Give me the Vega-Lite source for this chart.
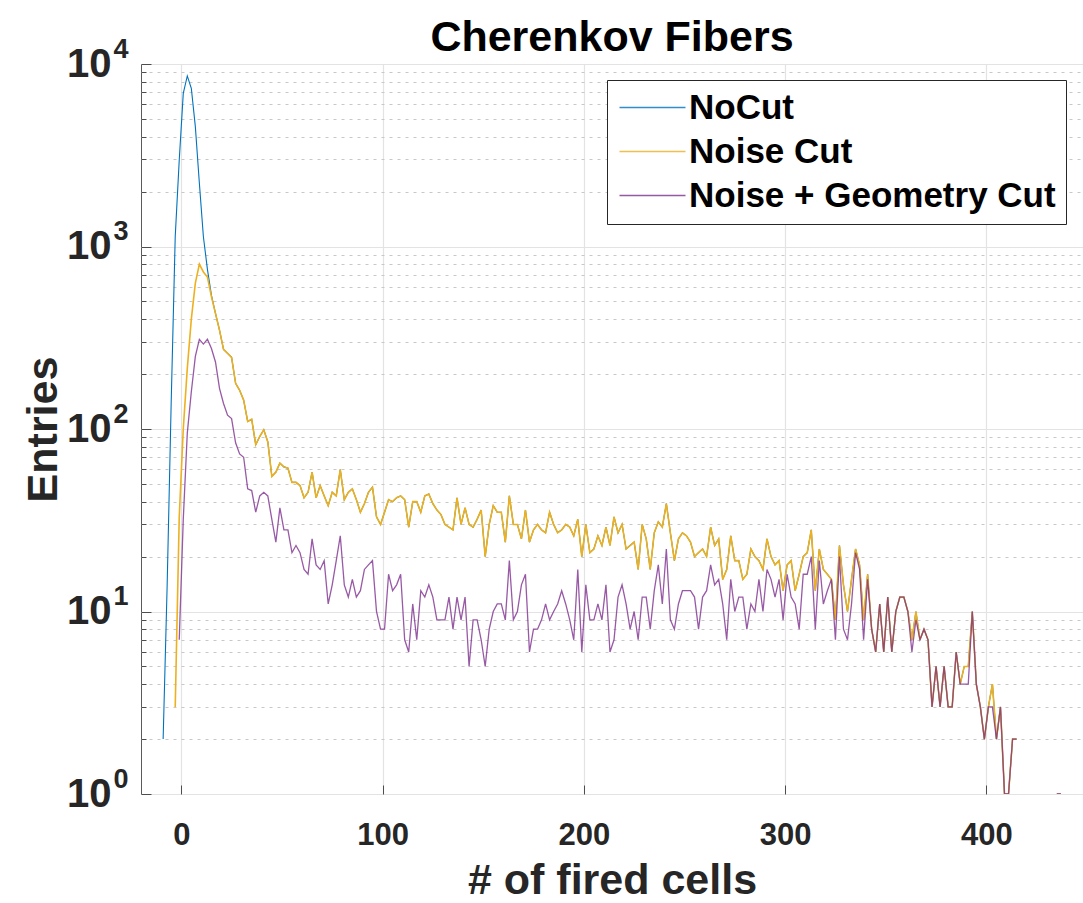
{
 "$schema": "https://vega.github.io/schema/vega-lite/v6.json",
 "autosize": "none",
 "padding": {"left": 141, "top": 64, "right": 0, "bottom": 109},
 "width": 942,
 "height": 730,
 "background": "white",
 "title": {"text": "Cherenkov Fibers", "font": "Liberation Sans", "fontSize": 43, "fontWeight": "bold", "color": "#000000", "anchor": "middle", "frame": "group", "baseline": "alphabetic", "offset": 0, "dy": 59},
 "resolve": {"axis": {"y": "independent"}},
 "config": {
  "view": {"stroke": "#5a5a5a", "strokeWidth": 1},
  "axis": {"labelFont": "Liberation Sans", "labelFontWeight": "bold", "labelFontSize": 30, "labelColor": "#262626", "titleFont": "Liberation Sans", "titleFontWeight": "bold", "titleFontSize": 43, "titleColor": "#262626", "domain": false, "tickColor": "#4d4d4d", "gridColor": "#e3e3e3", "gridWidth": 1.2, "labelOverlap": false, "labelBound": false, "labelFlush": false}
 },
 "data": {"values": [
  {"x":-9,"a":2,"b":null,"c":null},
  {"x":-7,"a":14,"b":null,"c":null},
  {"x":-5,"a":140,"b":null,"c":null},
  {"x":-3,"a":1130,"b":3,"c":null},
  {"x":-1,"a":2980,"b":33,"c":7},
  {"x":1,"a":6900,"b":100,"c":32},
  {"x":3,"a":8600,"b":215,"c":95},
  {"x":5,"a":7360,"b":400,"c":160},
  {"x":7,"a":4540,"b":630,"c":250},
  {"x":9,"a":2220,"b":800,"c":310},
  {"x":11,"a":1130,"b":725,"c":292},
  {"x":13,"a":750,"b":680,"c":310},
  {"x":15,"a":540,"b":530,"c":276},
  {"x":17,"a":430,"b":430,"c":233},
  {"x":19,"a":348,"b":348,"c":167},
  {"x":21,"a":273,"b":273,"c":138},
  {"x":23,"a":260,"b":260,"c":119},
  {"x":25,"a":247,"b":247,"c":114},
  {"x":27,"a":178,"b":178,"c":84},
  {"x":29,"a":163,"b":163,"c":73},
  {"x":31,"a":144,"b":144,"c":70},
  {"x":33,"a":110,"b":110,"c":47},
  {"x":35,"a":113,"b":113,"c":46},
  {"x":37,"a":82,"b":82,"c":35},
  {"x":39,"a":91,"b":91,"c":43},
  {"x":41,"a":99,"b":99,"c":45},
  {"x":43,"a":85,"b":85,"c":43},
  {"x":45,"a":55,"b":55,"c":32},
  {"x":47,"a":58,"b":58,"c":24},
  {"x":49,"a":65,"b":65,"c":37},
  {"x":51,"a":62,"b":62,"c":28},
  {"x":53,"a":61,"b":61,"c":28},
  {"x":55,"a":51,"b":51,"c":21},
  {"x":57,"a":51,"b":51,"c":23},
  {"x":59,"a":49,"b":49,"c":21},
  {"x":61,"a":42,"b":42,"c":17},
  {"x":63,"a":45,"b":45,"c":16},
  {"x":65,"a":58,"b":58,"c":25},
  {"x":67,"a":42,"b":42,"c":18},
  {"x":69,"a":49,"b":49,"c":17},
  {"x":71,"a":43,"b":43,"c":19},
  {"x":73,"a":38,"b":38,"c":11},
  {"x":75,"a":45,"b":45,"c":14},
  {"x":77,"a":43,"b":43,"c":19},
  {"x":79,"a":60,"b":60,"c":26},
  {"x":81,"a":41,"b":41,"c":14},
  {"x":83,"a":45,"b":45,"c":12},
  {"x":85,"a":47,"b":47,"c":15},
  {"x":87,"a":41,"b":41,"c":12},
  {"x":89,"a":35,"b":35,"c":13},
  {"x":91,"a":39,"b":39,"c":17},
  {"x":93,"a":45,"b":45,"c":18},
  {"x":95,"a":48,"b":48,"c":19},
  {"x":97,"a":33,"b":33,"c":10},
  {"x":99,"a":30,"b":30,"c":8},
  {"x":101,"a":35,"b":35,"c":8},
  {"x":103,"a":41,"b":41,"c":16},
  {"x":105,"a":40,"b":40,"c":13},
  {"x":107,"a":42,"b":42,"c":14},
  {"x":109,"a":43,"b":43,"c":16},
  {"x":111,"a":41,"b":41,"c":7},
  {"x":113,"a":29,"b":29,"c":6},
  {"x":115,"a":40,"b":40,"c":11},
  {"x":117,"a":40,"b":40,"c":7},
  {"x":119,"a":35,"b":35,"c":13},
  {"x":121,"a":43,"b":43,"c":12},
  {"x":123,"a":44,"b":44,"c":14},
  {"x":125,"a":39,"b":39,"c":12},
  {"x":127,"a":36,"b":36,"c":9},
  {"x":129,"a":34,"b":34,"c":9},
  {"x":131,"a":30,"b":30,"c":9},
  {"x":133,"a":29,"b":29,"c":12},
  {"x":135,"a":28,"b":28,"c":8},
  {"x":137,"a":42,"b":42,"c":12},
  {"x":139,"a":30,"b":30,"c":9},
  {"x":141,"a":37,"b":37,"c":12},
  {"x":143,"a":30,"b":30,"c":5},
  {"x":145,"a":29,"b":29,"c":9},
  {"x":147,"a":32,"b":32,"c":9},
  {"x":149,"a":36,"b":36,"c":7},
  {"x":151,"a":20,"b":20,"c":5},
  {"x":153,"a":30,"b":30,"c":8},
  {"x":155,"a":38,"b":38,"c":10},
  {"x":157,"a":35,"b":35,"c":11},
  {"x":159,"a":35,"b":35,"c":11},
  {"x":161,"a":24,"b":24,"c":9},
  {"x":163,"a":43,"b":43,"c":19},
  {"x":165,"a":30,"b":30,"c":9},
  {"x":167,"a":30,"b":30,"c":10},
  {"x":169,"a":25,"b":25,"c":14},
  {"x":171,"a":36,"b":36,"c":16},
  {"x":173,"a":24,"b":24,"c":6},
  {"x":175,"a":28,"b":28,"c":8},
  {"x":177,"a":30,"b":30,"c":8},
  {"x":179,"a":28,"b":28,"c":9},
  {"x":181,"a":27,"b":27,"c":11},
  {"x":183,"a":35,"b":35,"c":9},
  {"x":185,"a":30,"b":30,"c":10},
  {"x":187,"a":27,"b":27,"c":11},
  {"x":189,"a":28,"b":28,"c":13},
  {"x":191,"a":30,"b":30,"c":11},
  {"x":193,"a":29,"b":29,"c":9},
  {"x":195,"a":26,"b":26,"c":7},
  {"x":197,"a":32,"b":32,"c":17},
  {"x":199,"a":20,"b":20,"c":6},
  {"x":201,"a":30,"b":30,"c":14},
  {"x":203,"a":21,"b":21,"c":9},
  {"x":205,"a":22,"b":22,"c":9},
  {"x":207,"a":26,"b":26,"c":11},
  {"x":209,"a":23,"b":23,"c":9},
  {"x":211,"a":29,"b":29,"c":14},
  {"x":213,"a":23,"b":23,"c":6},
  {"x":215,"a":33,"b":33,"c":7},
  {"x":217,"a":27,"b":27,"c":12},
  {"x":219,"a":30,"b":30,"c":14},
  {"x":221,"a":22,"b":22,"c":11},
  {"x":223,"a":23,"b":23,"c":8},
  {"x":225,"a":24,"b":24,"c":10},
  {"x":227,"a":17,"b":17,"c":7},
  {"x":229,"a":30,"b":30,"c":12},
  {"x":231,"a":25,"b":25,"c":12},
  {"x":233,"a":17,"b":17,"c":8},
  {"x":235,"a":27,"b":27,"c":13},
  {"x":237,"a":31,"b":31,"c":18},
  {"x":239,"a":29,"b":29,"c":11},
  {"x":241,"a":39,"b":39,"c":22},
  {"x":243,"a":27,"b":27,"c":9},
  {"x":245,"a":19,"b":19,"c":8},
  {"x":247,"a":25,"b":25,"c":11},
  {"x":249,"a":27,"b":27,"c":13},
  {"x":251,"a":26,"b":26,"c":13},
  {"x":253,"a":24,"b":24,"c":13},
  {"x":255,"a":20,"b":20,"c":12},
  {"x":257,"a":21,"b":21,"c":8},
  {"x":259,"a":22,"b":22,"c":12},
  {"x":261,"a":20,"b":20,"c":13},
  {"x":263,"a":29,"b":29,"c":18},
  {"x":265,"a":23,"b":23,"c":14},
  {"x":267,"a":25,"b":25,"c":15},
  {"x":269,"a":15,"b":15,"c":11},
  {"x":271,"a":17,"b":17,"c":7},
  {"x":273,"a":26,"b":26,"c":15},
  {"x":275,"a":19,"b":19,"c":10},
  {"x":277,"a":19,"b":19,"c":12},
  {"x":279,"a":15,"b":15,"c":12},
  {"x":281,"a":16,"b":16,"c":8},
  {"x":283,"a":22,"b":22,"c":11},
  {"x":285,"a":20,"b":20,"c":10},
  {"x":287,"a":19,"b":19,"c":15},
  {"x":289,"a":17,"b":17,"c":10},
  {"x":291,"a":25,"b":25,"c":17},
  {"x":293,"a":20,"b":20,"c":15},
  {"x":295,"a":18,"b":18,"c":12},
  {"x":297,"a":19,"b":19,"c":15},
  {"x":299,"a":13,"b":13,"c":9},
  {"x":301,"a":18,"b":18,"c":16},
  {"x":303,"a":19,"b":19,"c":12},
  {"x":305,"a":13,"b":13,"c":11},
  {"x":307,"a":16,"b":16,"c":8},
  {"x":309,"a":20,"b":20,"c":16},
  {"x":311,"a":21,"b":21,"c":16},
  {"x":313,"a":28,"b":28,"c":20},
  {"x":315,"a":13,"b":13,"c":8},
  {"x":317,"a":22,"b":22,"c":19},
  {"x":319,"a":17,"b":17,"c":11},
  {"x":321,"a":16,"b":16,"c":13},
  {"x":323,"a":15,"b":15,"c":15},
  {"x":325,"a":9,"b":9,"c":7},
  {"x":327,"a":23,"b":23,"c":20},
  {"x":329,"a":14,"b":14,"c":8},
  {"x":331,"a":10,"b":10,"c":7},
  {"x":333,"a":15,"b":15,"c":11},
  {"x":335,"a":22,"b":22,"c":21},
  {"x":337,"a":18,"b":18,"c":17},
  {"x":339,"a":9,"b":9,"c":7},
  {"x":341,"a":16,"b":16,"c":15},
  {"x":343,"a":8,"b":8,"c":8},
  {"x":345,"a":6,"b":6,"c":6},
  {"x":347,"a":11,"b":11,"c":11},
  {"x":349,"a":6,"b":6,"c":6},
  {"x":351,"a":12,"b":12,"c":12},
  {"x":353,"a":6,"b":6,"c":6},
  {"x":355,"a":10,"b":10,"c":10},
  {"x":357,"a":12,"b":12,"c":12},
  {"x":359,"a":12,"b":12,"c":12},
  {"x":361,"a":10,"b":10,"c":10},
  {"x":363,"a":7,"b":7,"c":6},
  {"x":365,"a":10,"b":10,"c":9},
  {"x":367,"a":7,"b":7,"c":7},
  {"x":369,"a":8,"b":8,"c":8},
  {"x":371,"a":7,"b":7,"c":7},
  {"x":373,"a":3,"b":3,"c":3},
  {"x":375,"a":5,"b":5,"c":5},
  {"x":377,"a":3,"b":3,"c":3},
  {"x":379,"a":5,"b":5,"c":5},
  {"x":381,"a":3,"b":3,"c":3},
  {"x":383,"a":3,"b":3,"c":3},
  {"x":385,"a":6,"b":6,"c":6},
  {"x":387,"a":4,"b":4,"c":4},
  {"x":389,"a":5,"b":5,"c":4},
  {"x":391,"a":5,"b":5,"c":4},
  {"x":393,"a":10,"b":10,"c":10},
  {"x":395,"a":4,"b":4,"c":4},
  {"x":397,"a":3,"b":3,"c":3},
  {"x":399,"a":2,"b":2,"c":2},
  {"x":401,"a":3,"b":3,"c":3},
  {"x":403,"a":4,"b":4,"c":3},
  {"x":405,"a":2,"b":2,"c":2},
  {"x":407,"a":3,"b":3,"c":3},
  {"x":409,"a":1,"b":1,"c":1},
  {"x":411,"a":1,"b":1,"c":1},
  {"x":413,"a":2,"b":2,"c":2},
  {"x":415,"a":2,"b":2,"c":2},
  {"x":417,"a":null,"b":null,"c":null},
  {"x":433,"a":null,"b":null,"c":null},
  {"x":435,"a":1,"b":1,"c":1},
  {"x":437,"a":1,"b":1,"c":1}
 ]},
 "layer": [
  {
   "mark": {"type": "line", "strokeWidth": 1.1, "invalid": "break-paths-filter-domains", "clip": true},
   "encoding": {
    "x": {"field": "x", "type": "quantitative", "scale": {"domain": [-20, 448], "nice": false, "zero": false},
      "axis": {"values": [0, 100, 200, 300, 400], "title": "# of fired cells", "tickSize": -9, "labelPadding": 35, "titlePadding": 9, "grid": true,
        "labelFontSize": 31}},
    "y": {"field": "a", "type": "quantitative", "title": "Entries",
      "scale": {"type": "log", "domain": [1, 10000], "nice": false},
      "axis": {
        "orient": "left",
        "values": [1,2,3,4,5,6,7,8,9,10,20,30,40,50,60,70,80,90,100,200,300,400,500,600,700,800,900,1000,2000,3000,4000,5000,6000,7000,8000,9000,10000],
        "labelExpr": "indexof([1,10,100,1000,10000], datum.value) >= 0 ? '10' : ''",
        "labelFontSize": 40,
        "grid": true,
        "gridDash": {"condition": {"test": "indexof([1,10,100,1000,10000], datum.value) >= 0", "value": []}, "value": [3, 5]},
        "gridColor": {"condition": {"test": "indexof([1,10,100,1000,10000], datum.value) >= 0", "value": "#e3e3e3"}, "value": "#c8c8c8"},
        "tickSize": {"condition": {"test": "indexof([1,10,100,1000,10000], datum.value) >= 0", "value": -10}, "value": -5},
        "labelPadding": 40,
        "titlePadding": 1
      }},
    "color": {"datum": "NoCut", "type": "nominal",
      "scale": {"domain": ["NoCut", "Noise Cut", "Noise + Geometry Cut"], "range": ["#0072BD", "#EDB120", "#7E2F8E"]},
      "legend": {"title": null, "orient": "none", "legendX": 466, "legendY": 16,
        "symbolType": "M-1,0L3.4,0", "symbolSize": 900, "symbolStrokeWidth": 1.5,
        "labelFont": "Liberation Sans", "labelFontWeight": "bold", "labelFontSize": 35, "labelColor": "#000000", "labelLimit": 0,
        "labelOffset": 37, "padding": 10, "rowPadding": 8,
        "strokeColor": "#262626", "fillColor": "#ffffff", "cornerRadius": 0}}
   }
  },
  {
   "mark": {"type": "line", "strokeWidth": 1.6, "invalid": "break-paths-filter-domains", "clip": true},
   "encoding": {
    "x": {"field": "x", "type": "quantitative"},
    "y": {"field": "b", "type": "quantitative",
      "axis": {"orient": "left", "title": null, "values": [1, 10, 100, 1000, 10000],
        "labelExpr": "datum.value == 1 ? '0' : datum.value == 10 ? '1' : datum.value == 100 ? '2' : datum.value == 1000 ? '3' : '4'",
        "labelFontSize": 27, "labelPadding": 13, "labelOffset": -15, "ticks": false, "grid": false, "domain": false}},
    "color": {"datum": "Noise Cut", "type": "nominal"}
   }
  },
  {
   "mark": {"type": "line", "strokeWidth": 1.3, "opacity": 0.8, "invalid": "break-paths-filter-domains", "clip": true},
   "encoding": {
    "x": {"field": "x", "type": "quantitative"},
    "y": {"field": "c", "type": "quantitative", "axis": null},
    "color": {"datum": "Noise + Geometry Cut", "type": "nominal"}
   }
  }
 ]
}
